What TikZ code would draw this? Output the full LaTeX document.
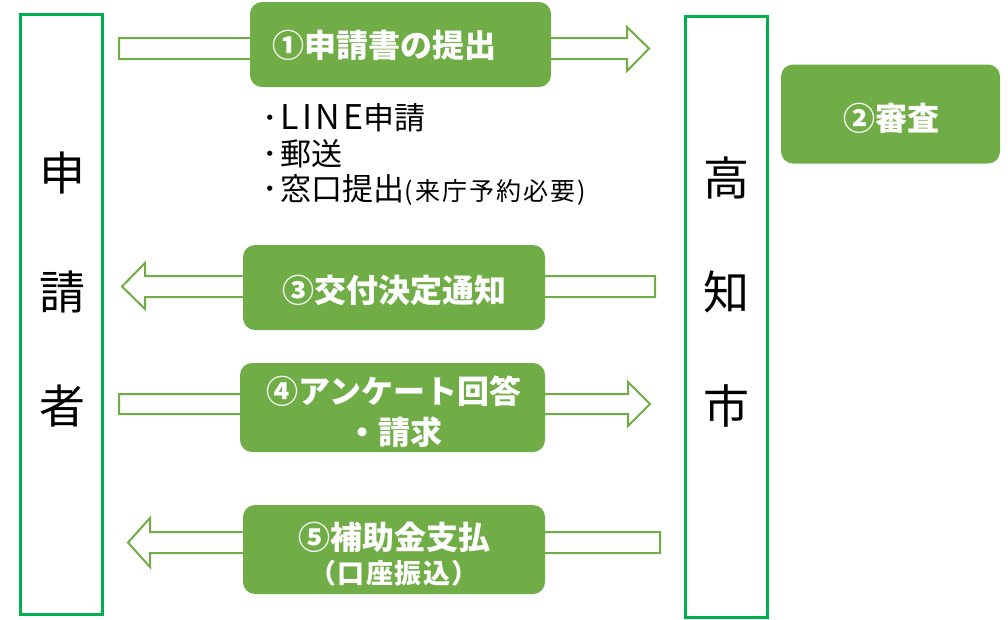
\documentclass[tikz,border=0pt]{standalone}
\usepackage{fontspec}
\newfontfamily\jp{Noto Sans CJK JP}
\begin{document}
\begin{tikzpicture}[x=1pt,y=-1pt,
  sidebox/.style={draw=sidegreen,line width=3pt,minimum width=82pt,inner sep=0pt},
  stepbox/.style={fill=boxgreen,rounded corners=12pt,inner sep=0pt},
  steptext/.style={text=white,font=\jp\bfseries\fontsize{32}{36}\selectfont,inner sep=0pt},
  bullettext/.style={anchor=west,font=\jp\fontsize{31}{34}\selectfont,inner sep=0pt},
  blockarrow/.style={draw=boxgreen,fill=white,line width=2pt,line join=miter},
  sidechar/.style={font=\jp\fontsize{46}{50}\selectfont}]
\definecolor{sidegreen}{HTML}{00B050}
\definecolor{boxgreen}{HTML}{70AD47}
\useasboundingbox (0,0) rectangle (1008,619);
% side boxes
\node[sidebox,minimum height=600pt] (app) at (61.5,314) {};
\node[sidebox,minimum height=601pt] (city) at (726.5,316.5) {};
\node[sidechar] (a1) at (62,173) {申};
\node[sidechar] (a2) at (62,292) {請};
\node[sidechar] (a3) at (62,406) {者};
\node[sidechar] (c1) at (726,178) {高};
\node[sidechar] (c2) at (726,292) {知};
\node[sidechar] (c3) at (726,406) {市};
% arrows
\draw[blockarrow] (119,38) -- (627,38) -- (627,27) -- (649,48.5) -- (627,71) -- (627,59) -- (119,59) -- cycle;
\draw[blockarrow] (655,276) -- (145,276) -- (145,263) -- (122,286.5) -- (145,309) -- (145,297) -- (655,297) -- cycle;
\draw[blockarrow] (119,394) -- (628,394) -- (628,382) -- (650,404) -- (628,426) -- (628,414) -- (119,414) -- cycle;
\draw[blockarrow] (660,532) -- (150,532) -- (150,518) -- (128,542.5) -- (150,567) -- (150,553) -- (660,553) -- cycle;
% step boxes
\node[stepbox,minimum width=301pt,minimum height=85pt] (s1) at (400.5,44.5) {};
\node[steptext] (t1) at (384,45) {①申請書の提出};
\node[stepbox,minimum width=219pt,minimum height=99pt] (s2) at (890.5,114) {};
\node[steptext] (t2) at (891,118) {②審査};
\node[stepbox,minimum width=302pt,minimum height=85pt] (s3) at (394,287.5) {};
\node[steptext] (t3) at (394,290) {③交付決定通知};
\node[stepbox,minimum width=305pt,minimum height=89pt] (s4) at (392.5,407.5) {};
\node[steptext] (t4a) at (394,391) {④アンケート回答};
\node[steptext] (t4b) at (394,432) {・請求};
\node[stepbox,minimum width=302pt,minimum height=89pt] (s5) at (394,549.5) {};
\node[steptext] (t5a) at (394,537) {⑤補助金支払};
\node[steptext,font=\jp\bfseries\fontsize{27}{30}\selectfont\addfontfeature{LetterSpace=5}] (t5b) at (394,573) {（口座振込）};
% bullets
\node[bullettext] (b1) at (262,118) {･\kern3pt{\fontsize{34}{34}\selectfont\addfontfeature{LetterSpace=10}LINE}申請};
\node[bullettext] (b2) at (262,154) {･\kern3pt 郵送};
\node[bullettext] (b3) at (262,190) {･\kern3pt 窓口提出{\fontsize{25}{28}\selectfont\addfontfeature{LetterSpace=8}(来庁予約必要)}};
\end{tikzpicture}
\end{document}
